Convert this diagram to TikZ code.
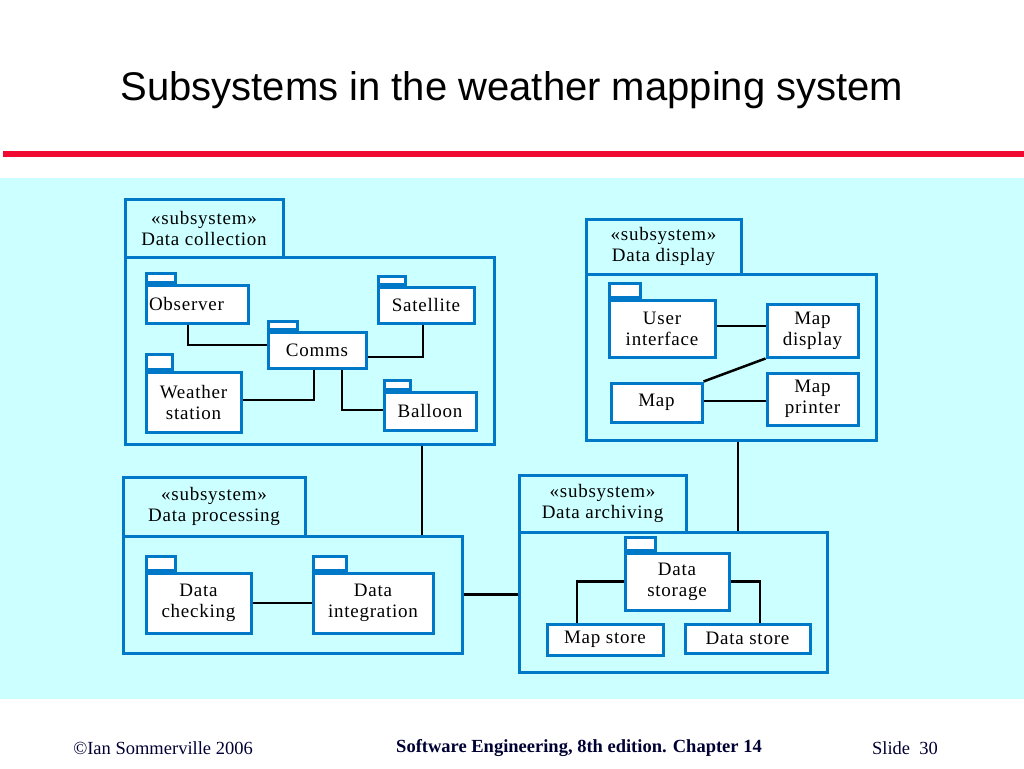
\documentclass[tikz,border=0pt]{standalone}
\usepackage{fontspec}
\setmainfont{Liberation Serif}
\newfontfamily\titlefont{Liberation Sans}
\newfontfamily\boxfont[LetterSpace=4]{Liberation Serif}
\definecolor{bandcyan}{RGB}{204,255,255}
\definecolor{boxblue}{RGB}{0,120,200}
\definecolor{slidered}{RGB}{240,10,50}
\definecolor{footnavy}{RGB}{0,0,51}
\begin{document}
\begin{tikzpicture}[x=1pt,y=-1pt,
  pbox/.style={draw=boxblue, line width=3pt, fill=white, inner sep=1pt, align=center,
    font=\boxfont\fontsize{19}{21}\selectfont},
  tabbox/.style={draw=boxblue, line width=3pt, fill=white, inner sep=0pt, anchor=south west},
  frame/.style={draw=boxblue, line width=3pt, inner sep=0pt},
  ftab/.style={draw=boxblue, line width=3pt, inner sep=0pt, align=center,
    font=\boxfont\fontsize{19}{21}\selectfont},
  conn/.style={draw=black, line width=2.5pt}]
\useasboundingbox (0,0) rectangle (1024,768);
\fill[white] (0,0) rectangle (1024,768);
\fill[bandcyan] (0,178) rectangle (1024,699);
\fill[slidered] (3,151) rectangle (1024,157);
\node[font=\titlefont\fontsize{40}{46}\selectfont, anchor=center] (title) at (512,90) {Subsystems in the weather mapping system};

% Data collection
\node[ftab, minimum width=158pt, minimum height=58pt] (colTab) at (204,228) {«subsystem»\\Data collection};
\node[frame, minimum width=369pt, minimum height=187pt] (colBody) at (309.5,350.5) {};
\node[pbox, minimum width=102pt, minimum height=38pt, text width=96pt, align=left] (obs) at (197,304) {Observer};
\node[tabbox, minimum width=29pt, minimum height=9pt] (obsTab) at (obs.north west) {};
\node[pbox, minimum width=96pt, minimum height=36pt] (sat) at (426,305) {Satellite};
\node[tabbox, minimum width=27pt, minimum height=8pt] (satTab) at (sat.north west) {};
\node[pbox, minimum width=98pt, minimum height=36pt] (comms) at (317,350) {Comms};
\node[tabbox, minimum width=29pt, minimum height=8pt] (commsTab) at (comms.north west) {};
\node[pbox, minimum width=95pt, minimum height=60pt] (weather) at (193.5,402) {Weather\\station};
\node[tabbox, minimum width=26pt, minimum height=15pt] (weatherTab) at (weather.north west) {};
\node[pbox, minimum width=92pt, minimum height=38pt] (balloon) at (430,411) {Balloon};
\node[tabbox, minimum width=26pt, minimum height=9pt] (balloonTab) at (balloon.north west) {};

\draw[conn] ([xshift=-9pt]obs.south) |- ([yshift=5pt]comms.west);
\draw[conn] ([xshift=-3pt]sat.south) |- ([yshift=-7pt]comms.east);
\draw[conn] ([yshift=2pt]weather.east) -| ([xshift=-3pt]comms.south);
\draw[conn] ([xshift=25pt]comms.south) |- ([yshift=1pt]balloon.west);

% Data display
\node[ftab, minimum width=155pt, minimum height=55pt] (disTab) at (663.5,246.5) {«subsystem»\\Data display};
\node[frame, minimum width=290pt, minimum height=166pt] (disBody) at (731,357) {};
\node[pbox, minimum width=106pt, minimum height=57pt] (ui) at (662,328.5) {User\\interface};
\node[tabbox, minimum width=31pt, minimum height=14pt] (uiTab) at (ui.north west) {};
\node[pbox, minimum width=91pt, minimum height=53pt] (mapdisp) at (812.5,330.5) {Map\\display};
\node[pbox, minimum width=91pt, minimum height=39pt] (map) at (656.5,402.5) {Map};
\node[pbox, minimum width=91pt, minimum height=52pt] (mapprint) at (812.5,399) {Map\\printer};

\draw[conn] ([yshift=2.5pt]ui.east) -- ([yshift=2.5pt]ui.east -| mapdisp.west);
\draw[conn] (map.north east) -- (mapdisp.south west);
\draw[conn] ([yshift=1.5pt]map.east) -- ([yshift=1.5pt]map.east -| mapprint.west);

% Data processing
\node[ftab, minimum width=182pt, minimum height=59pt] (proTab) at (214,506.5) {«subsystem»\\Data processing};
\node[frame, minimum width=339pt, minimum height=117pt] (proBody) at (292.5,594.5) {};
\node[pbox, minimum width=105pt, minimum height=60pt] (check) at (198.5,603) {Data\\checking};
\node[tabbox, minimum width=29pt, minimum height=14pt] (checkTab) at (check.north west) {};
\node[pbox, minimum width=120pt, minimum height=60pt] (integ) at (373,603) {Data\\integration};
\node[tabbox, minimum width=33pt, minimum height=14pt] (integTab) at (integ.north west) {};
\draw[conn] (check.east) -- (integ.west);

% Data archiving
\node[ftab, minimum width=167pt, minimum height=57pt] (arcTab) at (602.5,503.5) {«subsystem»\\Data archiving};
\node[frame, minimum width=308pt, minimum height=140pt] (arcBody) at (673,602) {};
\node[pbox, minimum width=104pt, minimum height=57pt] (storage) at (677,581.5) {Data\\storage};
\node[tabbox, minimum width=30pt, minimum height=13pt] (storageTab) at (storage.north west) {};
\node[pbox, minimum width=116pt, minimum height=31pt] (mapstore) at (605,639.5) {Map store};
\node[pbox, minimum width=125pt, minimum height=29pt] (datastore) at (747.5,638.5) {Data store};
\draw[conn] (storage.west) -| ([xshift=-28pt]mapstore.north);
\draw[conn] (storage.east) -| ([xshift=12.5pt]datastore.north);

% subsystem connections
\draw[conn] ([xshift=112.5pt]colBody.south) -- ([xshift=129.5pt]proBody.north);
\draw[conn] ([xshift=7pt]disBody.south) -- ([xshift=65pt]arcBody.north);
\draw[conn] (proBody.east) -- (proBody.east -| arcBody.west);

% footer
\node[font=\fontsize{18.5}{21}\selectfont, text=footnavy] (f1) at (163,748) {©Ian Sommerville 2006};
\node[font=\bfseries\fontsize{18.5}{21}\selectfont, text=footnavy] (f2) at (579,748) {Software Engineering, 8th edition. Chapter 14};
\node[font=\fontsize{18.5}{21}\selectfont, text=footnavy] (f3) at (905,748) {Slide\ \ 30};
\end{tikzpicture}
\end{document}
